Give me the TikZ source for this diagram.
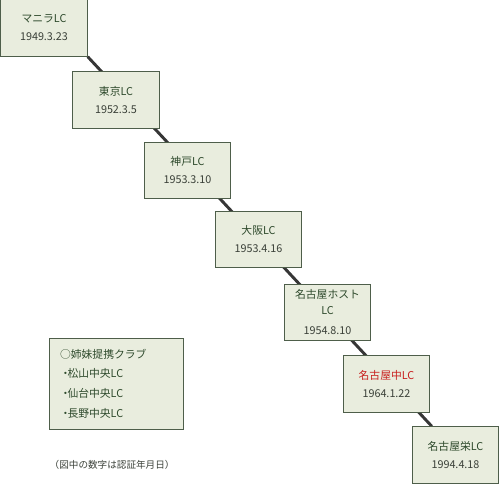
\documentclass[tikz,border=0pt]{standalone}
\usepackage{fontspec}
\setmainfont{Noto Sans CJK JP}
\usetikzlibrary{backgrounds}
\definecolor{boxfill}{HTML}{E9EDDE}
\definecolor{boxline}{HTML}{4E5E4A}
\definecolor{nametext}{HTML}{2E4A2C}
\definecolor{datetext}{HTML}{3A4038}
\definecolor{redtext}{HTML}{C8201E}
\definecolor{linkline}{HTML}{363636}
\tikzset{
  lcbox/.style={draw=boxline,fill=boxfill,line width=0.6pt,
    minimum width=65pt,minimum height=42.5pt,inner sep=0pt,align=center,
    text=datetext,font=\fontsize{8.1pt}{13.5pt}\selectfont},
  link/.style={draw=linkline,line width=2.2pt},
}
\begin{document}
\begin{tikzpicture}[x=0.75pt,y=-0.75pt]
  \useasboundingbox (0,0) rectangle (500,484);

  \node[lcbox] (m1) at (44,28)    {\textcolor{nametext}{マニラLC}\\1949.3.23};
  \node[lcbox] (m2) at (116,100)  {\textcolor{nametext}{東京LC}\\1952.3.5};
  \node[lcbox] (m3) at (187.5,170.5) {\textcolor{nametext}{神戸LC}\\1953.3.10};
  \node[lcbox] (m4) at (258.5,239.5) {\textcolor{nametext}{大阪LC}\\1953.4.16};
  \node[lcbox] (m5) at (327.5,312.5)
    {\textcolor{nametext}{名古屋ホスト}\\[-1.5pt]\textcolor{nametext}{LC}\\[1.5pt]1954.8.10};
  \node[lcbox] (m6) at (386.5,384) {\textcolor{redtext}{名古屋中LC}\\1964.1.22};
  \node[lcbox] (m7) at (455.5,455) {\textcolor{nametext}{名古屋栄LC}\\1994.4.18};

  % one straight line running behind all the boxes
  \begin{scope}[on background layer]
    \draw[link] (m1.south east) -- ([xshift=15pt]m7.north west);
  \end{scope}

  \node[lcbox,align=left,text=nametext,minimum width=100.5pt,minimum height=68.25pt,
    inner xsep=8pt,text width=84.5pt,anchor=north west,
    font=\fontsize{8.1pt}{15pt}\selectfont] (sister) at (49,338)
    {○姉妹提携クラブ\\[-0.3pt]・\kern-2.5pt松山中央LC\\・\kern-2.5pt仙台中央LC\\・\kern-2.5pt長野中央LC\\[-3pt]};

  \node[anchor=west,text=datetext,font=\fontsize{7.2pt}{8pt}\selectfont] (note) at (45,465)
    {（図中の数字は認証年月日）};
\end{tikzpicture}
\end{document}
